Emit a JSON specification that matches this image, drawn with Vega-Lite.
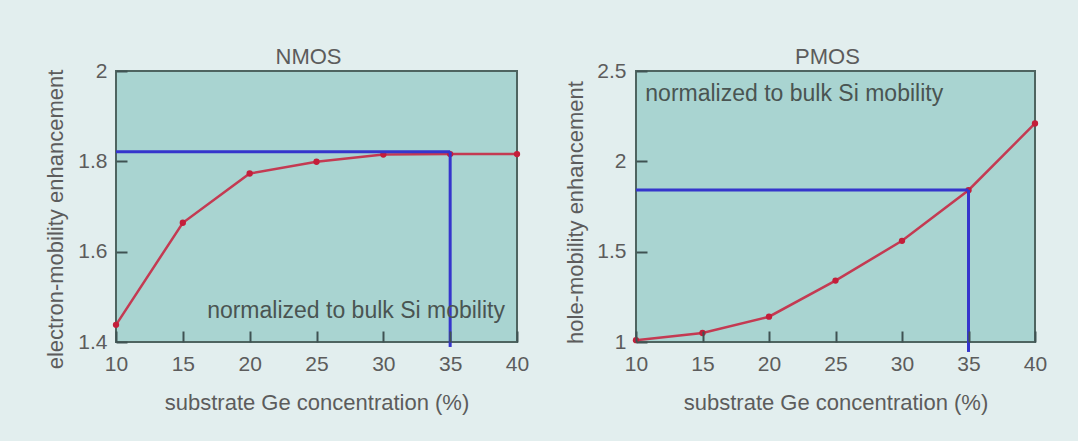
{
  "$schema": "https://vega.github.io/schema/vega-lite/v6.json",
  "background": "#e2eeee",
  "padding": {"left": 43, "top": 45, "right": 35, "bottom": 27},
  "config": {
    "font": "Liberation Sans",
    "view": {"fill": "#a9d4d1", "stroke": "#4e6460", "strokeWidth": 2},
    "axis": {
      "labelFont": "Liberation Sans",
      "labelFontSize": 21,
      "labelColor": "#5c5c5c",
      "titleFont": "Liberation Sans",
      "titleFontSize": 22,
      "titleFontWeight": "normal",
      "titleColor": "#5c5c5c",
      "grid": false,
      "domain": false,
      "tickColor": "#3f5252",
      "tickSize": 11,
      "offset": -11,
      "tickWidth": 2,
      "labelFlush": false,
      "labelOverlap": false
    },
    "title": {"font": "Liberation Sans", "fontSize": 22, "fontWeight": "normal", "color": "#5c5c5c", "offset": -9, "frame": "group", "dx": -8},
    "concat": {"spacing": 33}
  },
  "datasets": {
    "nmos": [
      {"ge": 10, "enh": 1.438},
      {"ge": 15, "enh": 1.664},
      {"ge": 20, "enh": 1.773},
      {"ge": 25, "enh": 1.799},
      {"ge": 30, "enh": 1.815},
      {"ge": 35, "enh": 1.816},
      {"ge": 40, "enh": 1.816}
    ],
    "pmos": [
      {"ge": 10, "enh": 1.01},
      {"ge": 15, "enh": 1.05},
      {"ge": 20, "enh": 1.14},
      {"ge": 25, "enh": 1.34},
      {"ge": 30, "enh": 1.56},
      {"ge": 35, "enh": 1.84},
      {"ge": 40, "enh": 2.21}
    ],
    "nmos_guides": [
      {"ge": 10, "ge2": 35, "enh": 1.821, "enh2": 1.821},
      {"ge": 35, "ge2": 35, "enh": 1.389, "enh2": 1.821}
    ],
    "pmos_guides": [
      {"ge": 10, "ge2": 35, "enh": 1.841, "enh2": 1.841},
      {"ge": 35, "ge2": 35, "enh": 0.945, "enh2": 1.841}
    ],
    "nmos_note": [{"ge": 39.1, "enh": 1.453, "note": "normalized to bulk Si mobility"}],
    "pmos_note": [{"ge": 10.7, "enh": 2.334, "note": "normalized to bulk Si mobility"}]
  },
  "hconcat": [
    {
      "title": "NMOS",
      "width": 401,
      "height": 271,
      "encoding": {
        "x": {"field": "ge", "type": "quantitative", "scale": {"domain": [10, 40]},
              "axis": {"values": [10, 15, 20, 25, 30, 35, 40], "title": "substrate Ge concentration (%)", "labelPadding": 11, "titlePadding": 18, "zindex": 2}},
        "y": {"field": "enh", "type": "quantitative", "scale": {"domain": [1.4, 2]},
              "axis": {"values": [1.4, 1.6, 1.8, 2], "format": "~g", "title": "electron-mobility enhancement", "labelPadding": 9, "titlePadding": 10, "titleY": 148, "zindex": 2}}
      },
      "layer": [
        {"data": {"name": "nmos"}, "mark": {"type": "line", "color": "#c43a52", "strokeWidth": 2.5}},
        {"data": {"name": "nmos"}, "mark": {"type": "point", "filled": true, "color": "#c41e3a", "size": 40, "opacity": 1}},
        {"data": {"name": "nmos_guides"}, "mark": {"type": "rule", "color": "#3535cc", "strokeWidth": 3},
         "encoding": {"x2": {"field": "ge2"}, "y2": {"field": "enh2"}}},
        {"data": {"name": "nmos_note"}, "mark": {"type": "text", "align": "right", "baseline": "alphabetic", "fontSize": 23, "color": "#4a5452", "font": "Liberation Sans"},
         "encoding": {"text": {"field": "note"}}}
      ]
    },
    {
      "title": "PMOS",
      "width": 399,
      "height": 271,
      "encoding": {
        "x": {"field": "ge", "type": "quantitative", "scale": {"domain": [10, 40]},
              "axis": {"values": [10, 15, 20, 25, 30, 35, 40], "title": "substrate Ge concentration (%)", "labelPadding": 11, "titlePadding": 18, "zindex": 2}},
        "y": {"field": "enh", "type": "quantitative", "scale": {"domain": [1, 2.5]},
              "axis": {"values": [1, 1.5, 2, 2.5], "format": "~g", "title": "hole-mobility enhancement", "labelPadding": 10, "titlePadding": 9, "titleY": 141, "zindex": 2}}
      },
      "layer": [
        {"data": {"name": "pmos"}, "mark": {"type": "line", "color": "#c43a52", "strokeWidth": 2.5}},
        {"data": {"name": "pmos"}, "mark": {"type": "point", "filled": true, "color": "#c41e3a", "size": 40, "opacity": 1}},
        {"data": {"name": "pmos_guides"}, "mark": {"type": "rule", "color": "#3535cc", "strokeWidth": 3},
         "encoding": {"x2": {"field": "ge2"}, "y2": {"field": "enh2"}}},
        {"data": {"name": "pmos_note"}, "mark": {"type": "text", "align": "left", "baseline": "alphabetic", "fontSize": 23, "color": "#4a5452", "font": "Liberation Sans"},
         "encoding": {"text": {"field": "note"}}}
      ]
    }
  ]
}
